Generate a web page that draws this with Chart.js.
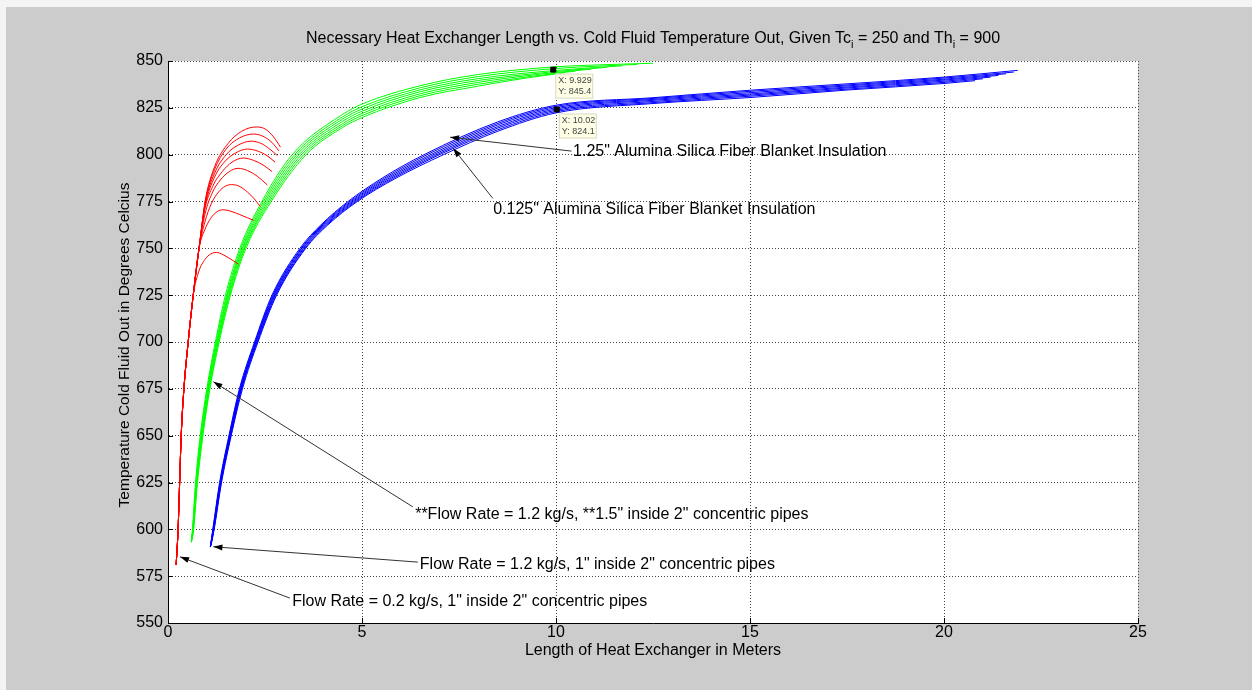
<!DOCTYPE html>
<html>
<head>
<meta charset="utf-8">
<script src="https://cdn.jsdelivr.net/npm/chart.js@4.4.0/dist/chart.umd.min.js"></script>
<style>
    html, body { margin: 0; padding: 0; background: #cccccc; }
    canvas { display: block; }
</style>
</head>
<body>
<canvas id="heatChart" width="1252" height="690"></canvas>
<script>
// Axis ticks
const lengthTicks = [0, 5, 10, 15, 20, 25];
const tempTicks = [550, 575, 600, 625, 650, 675, 700, 725, 750, 775, 800, 825, 850];

// Red family: 0.2 kg/s, 1" inside 2" pipes (shared steep rise, then one arc per run)
const redRise = [[0.21, 581], [0.26, 600], [0.30, 625], [0.34, 650], [0.41, 675], [0.52, 700], [0.65, 725]];
const redArcs = [
    [[0.80, 738], [0.95, 744], [1.10, 747], [1.25, 747.8], [1.42, 746.6], [1.62, 744.2], [1.82, 741.5]],
    [[0.80, 750], [0.95, 760], [1.10, 766], [1.26, 769.5], [1.42, 770.6], [1.62, 769.8], [1.85, 768], [2.05, 766.3], [2.20, 765]],
    [[0.80, 750], [0.95, 764], [1.12, 774], [1.30, 780], [1.48, 783.2], [1.64, 784], [1.82, 783.3], [2.05, 780], [2.22, 776.5], [2.38, 772.3]],
    [[0.80, 750], [0.95, 768], [1.15, 780], [1.35, 786.5], [1.58, 791], [1.81, 792.7], [2.05, 791.5], [2.30, 788.5], [2.56, 783.8]],
    [[0.80, 750], [0.95, 771], [1.15, 783], [1.40, 791], [1.65, 796], [1.94, 798.2], [2.20, 797], [2.45, 794.5], [2.68, 791]],
    [[0.80, 750], [0.96, 773], [1.20, 788], [1.45, 796], [1.75, 801], [2.05, 803], [2.30, 802], [2.55, 799.5], [2.76, 796]],
    [[0.80, 750], [0.96, 774], [1.20, 790], [1.50, 800], [1.80, 805], [2.14, 807.2], [2.40, 806], [2.62, 803], [2.82, 799.5]],
    [[0.80, 750], [0.96, 775], [1.20, 792], [1.50, 803], [1.85, 809], [2.21, 811], [2.45, 809.8], [2.68, 806.5], [2.86, 802]],
    [[0.80, 750], [0.96, 775.5], [1.20, 793.5], [1.55, 806], [1.90, 812.5], [2.28, 814.8], [2.52, 813.5], [2.72, 809.5], [2.90, 804]]
];

// Green family: **1.2 kg/s, **1.5" inside 2" pipes
const greenRuns = [
    [[0.62, 595], [0.66, 600], [0.76, 625], [0.90, 650], [1.08, 675], [1.32, 700], [1.61, 725], [2.01, 750], [2.66, 775], [3.56, 800], [4.5, 814.5], [5.0, 819.8], [6.5, 830.5], [8.0, 836.6], [9.2, 840.8], [10.2, 843.6]],
    [[0.62, 594.5], [0.655, 600], [0.75, 625], [0.89, 650], [1.07, 675], [1.30, 700], [1.59, 725], [1.98, 750], [2.62, 775], [3.50, 800], [4.5, 815.5], [5.0, 820.9], [6.5, 831.5], [8.0, 837.6], [9.4, 841.9], [10.5, 844.6]],
    [[0.61, 594], [0.65, 600], [0.74, 625], [0.88, 650], [1.05, 675], [1.29, 700], [1.57, 725], [1.96, 750], [2.58, 775], [3.44, 800], [4.5, 816.6], [5.0, 822], [6.5, 832.5], [8.0, 838.6], [9.6, 843], [10.9, 845.6]],
    [[0.61, 594], [0.645, 600], [0.735, 625], [0.87, 650], [1.04, 675], [1.27, 700], [1.55, 725], [1.93, 750], [2.54, 775], [3.38, 800], [4.5, 817.8], [5.0, 823.2], [6.5, 833.6], [8.0, 839.6], [9.8, 844], [11.3, 846.6]],
    [[0.61, 593.5], [0.64, 600], [0.725, 625], [0.86, 650], [1.03, 675], [1.26, 700], [1.53, 725], [1.91, 750], [2.50, 775], [3.32, 800], [4.5, 819], [5.0, 824.4], [6.5, 834.6], [8.0, 840.6], [10.0, 845], [11.7, 847.4]],
    [[0.60, 593.5], [0.635, 600], [0.72, 625], [0.845, 650], [1.015, 675], [1.24, 700], [1.51, 725], [1.88, 750], [2.46, 775], [3.26, 800], [4.5, 820.2], [5.0, 825.6], [6.5, 835.7], [8.0, 841.7], [10.0, 846], [12.1, 848.2]],
    [[0.60, 593], [0.63, 600], [0.71, 625], [0.83, 650], [1.00, 675], [1.22, 700], [1.48, 725], [1.85, 750], [2.42, 775], [3.20, 800], [4.5, 821.5], [5.0, 827], [6.5, 836.8], [8.0, 842.8], [10.0, 846.9], [11.5, 848.2], [12.5, 848.8]]
];

// Blue family: 1.2 kg/s, 1" inside 2" pipes
const blueRuns = [
    [[1.11, 591.5], [1.19, 600], [1.38, 625], [1.63, 650], [1.92, 675], [2.32, 700], [2.80, 725], [3.55, 750], [4.12, 762.5], [4.88, 775], [5.88, 787.5], [7.10, 800], [8.5, 812.5], [10, 822.3], [12.5, 827.3], [15, 830.5], [17.5, 834.5], [20, 838], [20.8, 839.5]],
    [[1.105, 591.3], [1.185, 600], [1.37, 625], [1.62, 650], [1.90, 675], [2.30, 700], [2.78, 725], [3.53, 750], [4.09, 762.5], [4.84, 775], [5.82, 787.5], [7.00, 800], [8.5, 813.3], [10, 823], [12.5, 827.8], [15, 831.2], [17.5, 835], [20, 838.6], [21.0, 840.5]],
    [[1.10, 591.2], [1.18, 600], [1.36, 625], [1.61, 650], [1.89, 675], [2.29, 700], [2.76, 725], [3.50, 750], [4.06, 762.5], [4.80, 775], [5.76, 787.5], [6.93, 800], [8.5, 814.2], [10, 823.7], [12.5, 828.4], [15, 831.8], [17.5, 835.6], [20, 839.2], [21.2, 841.4]],
    [[1.10, 591], [1.17, 600], [1.355, 625], [1.60, 650], [1.88, 675], [2.27, 700], [2.74, 725], [3.48, 750], [4.03, 762.5], [4.76, 775], [5.70, 787.5], [6.85, 800], [8.5, 815], [10, 824.4], [12.5, 829], [15, 832.4], [17.5, 836.1], [20, 839.8], [21.4, 842.3]],
    [[1.095, 590.8], [1.165, 600], [1.345, 625], [1.59, 650], [1.87, 675], [2.26, 700], [2.72, 725], [3.45, 750], [4.00, 762.5], [4.72, 775], [5.64, 787.5], [6.77, 800], [8.5, 815.9], [10, 825.1], [12.5, 829.5], [15, 833.1], [17.5, 836.7], [20, 840.3], [21.6, 843.2]],
    [[1.09, 590.7], [1.16, 600], [1.34, 625], [1.58, 650], [1.855, 675], [2.245, 700], [2.70, 725], [3.43, 750], [3.97, 762.5], [4.68, 775], [5.58, 787.5], [6.68, 800], [8.5, 816.7], [10, 825.8], [12.5, 830], [15, 833.8], [17.5, 837.2], [20, 840.9], [21.8, 844.1]],
    [[1.09, 590.5], [1.155, 600], [1.33, 625], [1.57, 650], [1.84, 675], [2.23, 700], [2.68, 725], [3.40, 750], [3.94, 762.5], [4.64, 775], [5.52, 787.5], [6.60, 800], [8.5, 817.5], [10, 826.4], [12.5, 830.4], [15, 834.4], [17.5, 837.8], [20, 841.4], [21.9, 845]]
];

// Data tips
const tipX = [9.929, 10.02];
const tipY = [845.4, 824.1];

const W = 1252, H = 690;
const FONT = '"Liberation Sans", Arial, sans-serif';

// Annotations (data coordinates): text anchor, arrow start, arrow tip
const notes = [
    { text: '1.25" Alumina Silica Fiber Blanket Insulation', tx: 10.44, ty: 801.6, fx: 10.40, fy: 801.9, ax: 7.27, ay: 809.3 },
    { text: '0.125" Alumina Silica Fiber Blanket Insulation', tx: 8.38, ty: 770.8, fx: 8.37, fy: 776.7, ax: 7.35, ay: 803.4 },
    { text: '**Flow Rate = 1.2 kg/s, **1.5" inside 2" concentric pipes', tx: 6.37, ty: 608.1, fx: 6.31, fy: 612.0, ax: 1.17, ay: 678.8 },
    { text: 'Flow Rate = 1.2 kg/s, 1" inside 2" concentric pipes', tx: 6.49, ty: 581.4, fx: 6.44, fy: 582.5, ax: 1.17, ay: 590.7 },
    { text: 'Flow Rate = 0.2 kg/s, 1" inside 2" concentric pipes', tx: 3.20, ty: 561.4, fx: 3.14, fy: 563.3, ax: 0.31, ay: 585.3 }
];

function toPoints(pairs) {
    return pairs.map(([x, y]) => ({ x, y }));
}

function curve(pairs, color) {
    return {
        data: toPoints(pairs),
        borderColor: color,
        borderWidth: 1,
        pointRadius: 0,
        fill: false,
        cubicInterpolationMode: 'monotone'
    };
}

const datasets = [];
redArcs.forEach(arc => datasets.push(curve(redRise.concat(arc), '#ff0000')));
greenRuns.forEach(run => datasets.push(curve(run, '#00ff00')));
blueRuns.forEach(run => datasets.push(curve(run, '#0000ff')));
datasets.push({
    data: tipX.map((x, i) => ({ x, y: tipY[i] })),
    showLine: false,
    order: -1,
    pointStyle: 'rect',
    pointRadius: 3.5,
    pointBackgroundColor: '#000',
    pointBorderColor: '#000'
});

function drawArrow(ctx, x1, y1, x2, y2) {
    const ang = Math.atan2(y2 - y1, x2 - x1);
    ctx.strokeStyle = '#333';
    ctx.lineWidth = 1;
    ctx.beginPath();
    ctx.moveTo(x1, y1);
    ctx.lineTo(x2, y2);
    ctx.stroke();
    ctx.fillStyle = '#000';
    ctx.beginPath();
    ctx.moveTo(x2, y2);
    ctx.lineTo(x2 - 9 * Math.cos(ang) + 3 * Math.sin(ang), y2 - 9 * Math.sin(ang) - 3 * Math.cos(ang));
    ctx.lineTo(x2 - 9 * Math.cos(ang) - 3 * Math.sin(ang), y2 - 9 * Math.sin(ang) + 3 * Math.cos(ang));
    ctx.closePath();
    ctx.fill();
}

const figurePlugin = {
    id: 'figure',
    beforeDraw(chart) {
        const { ctx, chartArea: a } = chart;
        ctx.save();
        ctx.fillStyle = '#f4f4f4';
        ctx.fillRect(0, 0, W, H);
        ctx.fillStyle = '#cccccc';
        ctx.fillRect(6, 7, W - 6, H - 7);
        ctx.fillStyle = '#ffffff';
        ctx.fillRect(a.left, a.top, a.right - a.left, a.bottom - a.top);
        ctx.restore();
    },
    afterDraw(chart) {
        const { ctx, chartArea: a, scales } = chart;
        const xs = scales.x, ys = scales.y;
        ctx.save();

        // inward tick marks on left and bottom axes
        ctx.strokeStyle = '#000';
        ctx.lineWidth = 1;
        ctx.beginPath();
        tempTicks.forEach(v => {
            const y = Math.round(ys.getPixelForValue(v)) + 0.5;
            ctx.moveTo(a.left, y);
            ctx.lineTo(a.left + 5, y);
        });
        lengthTicks.forEach(v => {
            const x = Math.round(xs.getPixelForValue(v)) + 0.5;
            ctx.moveTo(x, a.bottom);
            ctx.lineTo(x, a.bottom - 5);
        });
        ctx.stroke();

        // title with subscripts
        const parts = [
            { t: 'Necessary Heat Exchanger Length vs. Cold Fluid Temperature Out, Given Tc', sub: false },
            { t: 'i', sub: true },
            { t: ' = 250 and Th', sub: false },
            { t: 'i', sub: true },
            { t: ' = 900', sub: false }
        ];
        const big = '16px ' + FONT, small = '11px ' + FONT;
        let total = 0;
        parts.forEach(p => { ctx.font = p.sub ? small : big; p.w = ctx.measureText(p.t).width; total += p.w; });
        let cx = (a.left + a.right) / 2 - total / 2;
        ctx.fillStyle = '#000';
        ctx.textBaseline = 'alphabetic';
        ctx.textAlign = 'left';
        parts.forEach(p => {
            ctx.font = p.sub ? small : big;
            ctx.fillText(p.t, cx, p.sub ? 48 : 43);
            cx += p.w;
        });

        // axis titles
        ctx.font = big;
        ctx.textAlign = 'center';
        ctx.textBaseline = 'middle';
        ctx.fillText('Length of Heat Exchanger in Meters', (a.left + a.right) / 2, 651);
        ctx.save();
        ctx.font = '15.5px ' + FONT;
        ctx.translate(125, (a.top + a.bottom) / 2 + 3);
        ctx.rotate(-Math.PI / 2);
        ctx.fillText('Temperature Cold Fluid Out in Degrees Celcius', 0, 0);
        ctx.restore();

        // annotations
        ctx.font = '16px ' + FONT;
        ctx.textAlign = 'left';
        notes.forEach(n => {
            drawArrow(ctx, xs.getPixelForValue(n.fx), ys.getPixelForValue(n.fy),
                xs.getPixelForValue(n.ax), ys.getPixelForValue(n.ay));
            ctx.fillStyle = '#000';
            ctx.fillText(n.text, xs.getPixelForValue(n.tx), ys.getPixelForValue(n.ty));
        });

        // data tip boxes
        tipX.forEach((x, i) => {
            const px = xs.getPixelForValue(x) + 2;
            const py = ys.getPixelForValue(tipY[i]) + 4;
            ctx.fillStyle = '#ffffe6';
            ctx.fillRect(px, py, 38, 25);
            ctx.strokeStyle = '#d8d8c8';
            ctx.strokeRect(px + 0.5, py + 0.5, 37, 24);
            ctx.fillStyle = '#444';
            ctx.font = '9px ' + FONT;
            ctx.textBaseline = 'middle';
            ctx.fillText('X: ' + x, px + 3, py + 7);
            ctx.fillText('Y: ' + tipY[i], px + 3, py + 18);
        });
        ctx.restore();
    }
};

const axisFont = { family: FONT, size: 16 };

new Chart(document.getElementById('heatChart').getContext('2d'), {
    type: 'line',
    data: { datasets },
    options: {
        responsive: false,
        animation: false,
        devicePixelRatio: 1,
        layout: { padding: { top: 61, right: 114, left: 0, bottom: 0 } },
        plugins: {
            legend: { display: false },
            tooltip: { enabled: false },
            title: { display: false }
        },
        scales: {
            x: {
                type: 'linear',
                min: 0,
                max: 25,
                afterBuildTicks: s => { s.ticks = lengthTicks.map(v => ({ value: v })); },
                afterFit: s => { s.height = 67; },
                grid: { color: '#444', lineWidth: 1, drawTicks: false },
                border: { display: true, color: '#000', width: 1, dash: [1, 2] },
                ticks: { color: '#000', font: axisFont, padding: 0, maxRotation: 0 }
            },
            y: {
                type: 'linear',
                min: 550,
                max: 850,
                afterBuildTicks: s => { s.ticks = tempTicks.map(v => ({ value: v })); },
                afterFit: s => { s.width = 168; },
                grid: { color: '#444', lineWidth: 1, drawTicks: false },
                border: { display: true, color: '#000', width: 1, dash: [1, 2] },
                ticks: { color: '#000', font: axisFont, padding: 5 }
            }
        }
    },
    plugins: [figurePlugin]
});
</script>
</body>
</html>
